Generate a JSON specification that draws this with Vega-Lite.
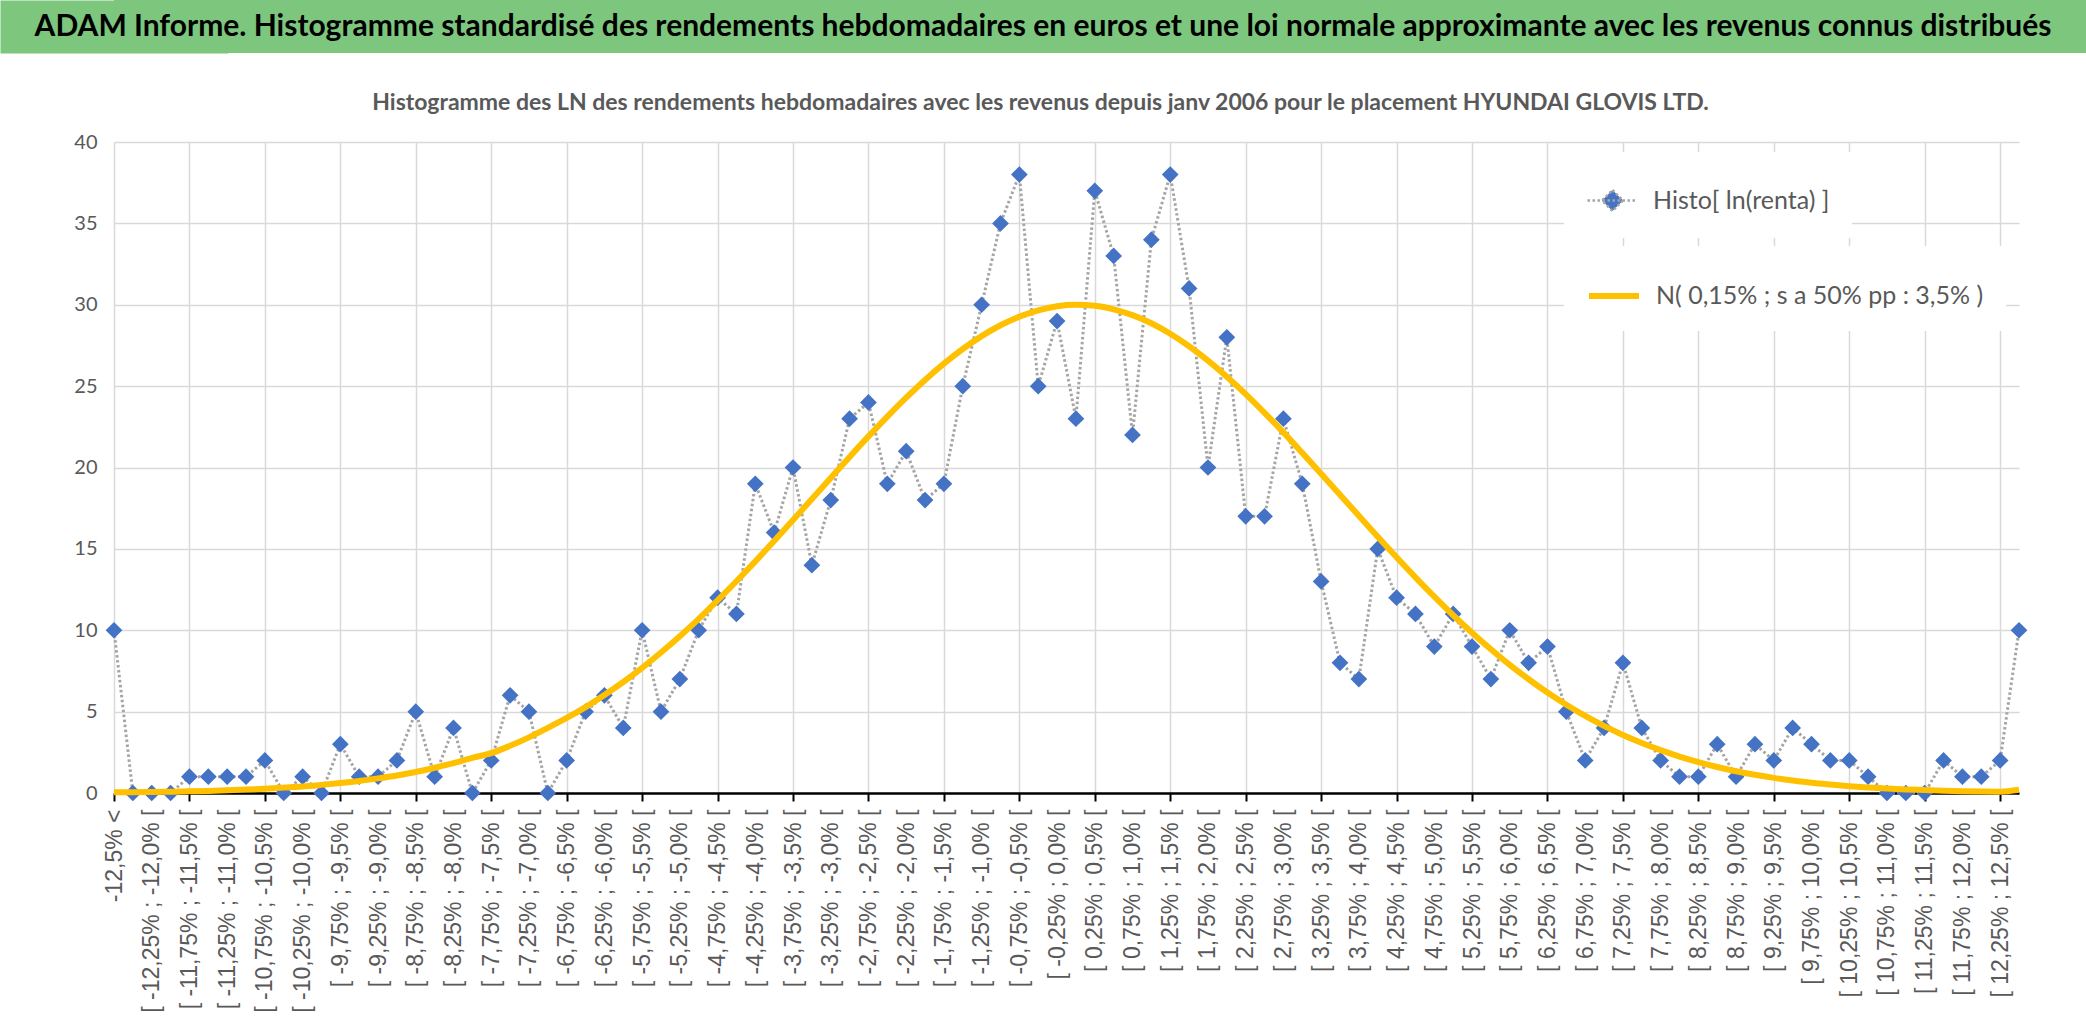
{
  "$schema": "https://vega.github.io/schema/vega-lite/v6.json",
  "background": "white",
  "padding": 0,
  "columns": 1,
  "align": "none",
  "bounds": "full",
  "spacing": 39,
  "resolve": {"legend": {"color": "independent", "strokeDash": "independent"}},
  "config": {"view": {"stroke": null}},
  "concat": [
    {
      "width": 1972,
      "height": 53,
      "view": {"fill": "#7CC77D", "stroke": null},
      "data": {"values": [{"titre": "ADAM Informe. Histogramme standardisé des rendements hebdomadaires en euros et une loi normale approximante avec les revenus connus distribués"}]},
      "mark": {"type": "text", "font": "Lato", "fontWeight": "bold", "fontSize": 30, "color": "black", "align": "center", "baseline": "middle", "dx": -57},
      "encoding": {
        "text": {"field": "titre", "type": "nominal"},
        "y": {
          "datum": 0.5,
          "type": "quantitative",
          "scale": {"domain": [0, 1]},
          "axis": {"title": null, "labels": false, "ticks": false, "grid": false, "domainColor": "#7CC77D", "domainWidth": 228, "domainCap": "butt"}
        }
      }
    },
    {
      "width": 1905,
      "height": 651,
      "title": {
        "text": "Histogramme des LN des rendements hebdomadaires avec les revenus depuis janv 2006 pour le placement HYUNDAI GLOVIS LTD.",
        "font": "Lato",
        "fontSize": 23,
        "fontWeight": "bold",
        "color": "#595959",
        "anchor": "middle",
        "dx": -26,
        "offset": 17
      },
      "data": {
        "values": [
          {"classe": "-12,5% <", "effectif": 10, "normale": 0.04},
          {"classe": "[ -12,5% ; -12,25% [", "effectif": 0, "normale": 0.05},
          {"classe": "[ -12,25% ; -12,0% [", "effectif": 0, "normale": 0.06},
          {"classe": "[ -12,0% ; -11,75% [", "effectif": 0, "normale": 0.08},
          {"classe": "[ -11,75% ; -11,5% [", "effectif": 1, "normale": 0.10},
          {"classe": "[ -11,5% ; -11,25% [", "effectif": 1, "normale": 0.13},
          {"classe": "[ -11,25% ; -11,0% [", "effectif": 1, "normale": 0.17},
          {"classe": "[ -11,0% ; -10,75% [", "effectif": 1, "normale": 0.21},
          {"classe": "[ -10,75% ; -10,5% [", "effectif": 2, "normale": 0.26},
          {"classe": "[ -10,5% ; -10,25% [", "effectif": 0, "normale": 0.33},
          {"classe": "[ -10,25% ; -10,0% [", "effectif": 1, "normale": 0.40},
          {"classe": "[ -10,0% ; -9,75% [", "effectif": 0, "normale": 0.50},
          {"classe": "[ -9,75% ; -9,5% [", "effectif": 3, "normale": 0.61},
          {"classe": "[ -9,5% ; -9,25% [", "effectif": 1, "normale": 0.74},
          {"classe": "[ -9,25% ; -9,0% [", "effectif": 1, "normale": 0.90},
          {"classe": "[ -9,0% ; -8,75% [", "effectif": 2, "normale": 1.08},
          {"classe": "[ -8,75% ; -8,5% [", "effectif": 5, "normale": 1.29},
          {"classe": "[ -8,5% ; -8,25% [", "effectif": 1, "normale": 1.55},
          {"classe": "[ -8,25% ; -8,0% [", "effectif": 4, "normale": 1.83},
          {"classe": "[ -8,0% ; -7,75% [", "effectif": 0, "normale": 2.16},
          {"classe": "[ -7,75% ; -7,5% [", "effectif": 2, "normale": 2.45},
          {"classe": "[ -7,5% ; -7,25% [", "effectif": 6, "normale": 2.9},
          {"classe": "[ -7,25% ; -7,0% [", "effectif": 5, "normale": 3.42},
          {"classe": "[ -7,0% ; -6,75% [", "effectif": 0, "normale": 4.0},
          {"classe": "[ -6,75% ; -6,5% [", "effectif": 2, "normale": 4.61},
          {"classe": "[ -6,5% ; -6,25% [", "effectif": 5, "normale": 5.28},
          {"classe": "[ -6,25% ; -6,0% [", "effectif": 6, "normale": 6.02},
          {"classe": "[ -6,0% ; -5,75% [", "effectif": 4, "normale": 6.82},
          {"classe": "[ -5,75% ; -5,5% [", "effectif": 10, "normale": 7.69},
          {"classe": "[ -5,5% ; -5,25% [", "effectif": 5, "normale": 8.63},
          {"classe": "[ -5,25% ; -5,0% [", "effectif": 7, "normale": 9.63},
          {"classe": "[ -5,0% ; -4,75% [", "effectif": 10, "normale": 10.70},
          {"classe": "[ -4,75% ; -4,5% [", "effectif": 12, "normale": 11.83},
          {"classe": "[ -4,5% ; -4,25% [", "effectif": 11, "normale": 13.01},
          {"classe": "[ -4,25% ; -4,0% [", "effectif": 19, "normale": 14.23},
          {"classe": "[ -4,0% ; -3,75% [", "effectif": 16, "normale": 15.49},
          {"classe": "[ -3,75% ; -3,5% [", "effectif": 20, "normale": 16.77},
          {"classe": "[ -3,5% ; -3,25% [", "effectif": 14, "normale": 18.06},
          {"classe": "[ -3,25% ; -3,0% [", "effectif": 18, "normale": 19.36},
          {"classe": "[ -3,0% ; -2,75% [", "effectif": 23, "normale": 20.65},
          {"classe": "[ -2,75% ; -2,5% [", "effectif": 24, "normale": 21.91},
          {"classe": "[ -2,5% ; -2,25% [", "effectif": 19, "normale": 23.13},
          {"classe": "[ -2,25% ; -2,0% [", "effectif": 21, "normale": 24.29},
          {"classe": "[ -2,0% ; -1,75% [", "effectif": 18, "normale": 25.38},
          {"classe": "[ -1,75% ; -1,5% [", "effectif": 19, "normale": 26.38},
          {"classe": "[ -1,5% ; -1,25% [", "effectif": 25, "normale": 27.28},
          {"classe": "[ -1,25% ; -1,0% [", "effectif": 30, "normale": 28.07},
          {"classe": "[ -1,0% ; -0,75% [", "effectif": 35, "normale": 28.74},
          {"classe": "[ -0,75% ; -0,5% [", "effectif": 38, "normale": 29.27},
          {"classe": "[ -0,5% ; -0,25% [", "effectif": 25, "normale": 29.66},
          {"classe": "[ -0,25% ; 0,0% [", "effectif": 29, "normale": 29.91},
          {"classe": "[ 0,0% ; 0,25% [", "effectif": 23, "normale": 30.0},
          {"classe": "[ 0,25% ; 0,5% [", "effectif": 37, "normale": 29.94},
          {"classe": "[ 0,5% ; 0,75% [", "effectif": 33, "normale": 29.72},
          {"classe": "[ 0,75% ; 1,0% [", "effectif": 22, "normale": 29.36},
          {"classe": "[ 1,0% ; 1,25% [", "effectif": 34, "normale": 28.86},
          {"classe": "[ 1,25% ; 1,5% [", "effectif": 38, "normale": 28.22},
          {"classe": "[ 1,5% ; 1,75% [", "effectif": 31, "normale": 27.45},
          {"classe": "[ 1,75% ; 2,0% [", "effectif": 20, "normale": 26.57},
          {"classe": "[ 2,0% ; 2,25% [", "effectif": 28, "normale": 25.58},
          {"classe": "[ 2,25% ; 2,5% [", "effectif": 17, "normale": 24.51},
          {"classe": "[ 2,5% ; 2,75% [", "effectif": 17, "normale": 23.36},
          {"classe": "[ 2,75% ; 3,0% [", "effectif": 23, "normale": 22.16},
          {"classe": "[ 3,0% ; 3,25% [", "effectif": 19, "normale": 20.90},
          {"classe": "[ 3,25% ; 3,5% [", "effectif": 13, "normale": 19.62},
          {"classe": "[ 3,5% ; 3,75% [", "effectif": 8, "normale": 18.33},
          {"classe": "[ 3,75% ; 4,0% [", "effectif": 7, "normale": 17.03},
          {"classe": "[ 4,0% ; 4,25% [", "effectif": 15, "normale": 15.74},
          {"classe": "[ 4,25% ; 4,5% [", "effectif": 12, "normale": 14.48},
          {"classe": "[ 4,5% ; 4,75% [", "effectif": 11, "normale": 13.25},
          {"classe": "[ 4,75% ; 5,0% [", "effectif": 9, "normale": 12.06},
          {"classe": "[ 5,0% ; 5,25% [", "effectif": 11, "normale": 10.92},
          {"classe": "[ 5,25% ; 5,5% [", "effectif": 9, "normale": 9.85},
          {"classe": "[ 5,5% ; 5,75% [", "effectif": 7, "normale": 8.83},
          {"classe": "[ 5,75% ; 6,0% [", "effectif": 10, "normale": 7.87},
          {"classe": "[ 6,0% ; 6,25% [", "effectif": 8, "normale": 6.99},
          {"classe": "[ 6,25% ; 6,5% [", "effectif": 9, "normale": 6.17},
          {"classe": "[ 6,5% ; 6,75% [", "effectif": 5, "normale": 5.42},
          {"classe": "[ 6,75% ; 7,0% [", "effectif": 2, "normale": 4.74},
          {"classe": "[ 7,0% ; 7,25% [", "effectif": 4, "normale": 4.12},
          {"classe": "[ 7,25% ; 7,5% [", "effectif": 8, "normale": 3.56},
          {"classe": "[ 7,5% ; 7,75% [", "effectif": 4, "normale": 3.07},
          {"classe": "[ 7,75% ; 8,0% [", "effectif": 2, "normale": 2.63},
          {"classe": "[ 8,0% ; 8,25% [", "effectif": 1, "normale": 2.24},
          {"classe": "[ 8,25% ; 8,5% [", "effectif": 1, "normale": 1.90},
          {"classe": "[ 8,5% ; 8,75% [", "effectif": 3, "normale": 1.60},
          {"classe": "[ 8,75% ; 9,0% [", "effectif": 1, "normale": 1.34},
          {"classe": "[ 9,0% ; 9,25% [", "effectif": 3, "normale": 1.12},
          {"classe": "[ 9,25% ; 9,5% [", "effectif": 2, "normale": 0.93},
          {"classe": "[ 9,5% ; 9,75% [", "effectif": 4, "normale": 0.77},
          {"classe": "[ 9,75% ; 10,0% [", "effectif": 3, "normale": 0.63},
          {"classe": "[ 10,0% ; 10,25% [", "effectif": 2, "normale": 0.52},
          {"classe": "[ 10,25% ; 10,5% [", "effectif": 2, "normale": 0.42},
          {"classe": "[ 10,5% ; 10,75% [", "effectif": 1, "normale": 0.34},
          {"classe": "[ 10,75% ; 11,0% [", "effectif": 0, "normale": 0.27},
          {"classe": "[ 11,0% ; 11,25% [", "effectif": 0, "normale": 0.22},
          {"classe": "[ 11,25% ; 11,5% [", "effectif": 0, "normale": 0.18},
          {"classe": "[ 11,5% ; 11,75% [", "effectif": 2, "normale": 0.14},
          {"classe": "[ 11,75% ; 12,0% [", "effectif": 1, "normale": 0.11},
          {"classe": "[ 12,0% ; 12,25% [", "effectif": 1, "normale": 0.09},
          {"classe": "[ 12,25% ; 12,5% [", "effectif": 2, "normale": 0.08},
          {"classe": "> 12,5%", "effectif": 10, "normale": 0.2}
        ]
      },
      "encoding": {
        "x": {
          "field": "classe",
          "type": "ordinal",
          "sort": null,
          "scale": {"type": "point", "padding": 0},
          "axis": {
            "title": null,
            "labelAngle": -90,
            "labelFont": "Liberation Sans",
            "labelFontSize": 23,
            "labelColor": "#595959",
            "labelPadding": 8,
            "labelLimit": 300,
            "labelOverlap": false,
            "labelOpacity": {"condition": {"test": "round(datum.index * 101) % 2 == 0", "value": 1}, "value": 0},
            "domainColor": "black",
            "domainWidth": 2.5,
            "tickColor": "black",
            "tickWidth": 2,
            "tickSize": 8,
            "tickOpacity": {"condition": {"test": "round(datum.index * 101) % 4 == 0", "value": 1}, "value": 0},
            "grid": true,
            "gridColor": "#D9D9D9",
            "gridWidth": 1.5,
            "gridOpacity": {"condition": {"test": "round(datum.index * 101) % 4 == 0", "value": 1}, "value": 0}
          }
        }
      },
      "layer": [
        {
          "mark": {"type": "line", "color": "#A5A5A5", "strokeWidth": 3},
          "encoding": {
            "y": {
              "field": "effectif",
              "type": "quantitative",
              "scale": {"domain": [0, 40]},
              "axis": {
                "title": null,
                "values": [0, 5, 10, 15, 20, 25, 30, 35, 40],
                "domain": false,
                "ticks": false,
                "labelFont": "Lato",
                "labelFontSize": 20,
                "labelColor": "#595959",
                "labelPadding": 17,
                "minExtent": 114,
                "gridColor": "#D9D9D9",
                "gridWidth": 1.5
              }
            },
            "strokeDash": {
              "datum": "Histo[ ln(renta) ]",
              "scale": {"domain": ["Histo[ ln(renta) ]"], "range": [[2.5, 2.5]]},
              "legend": {
                "title": null,
                "orient": "none",
                "legendX": 1450,
                "legendY": 10,
                "fillColor": "white",
                "padding": 22,
                "symbolSize": 2500,
                "symbolType": "M-1,0L1,0M0,-0.42L0.42,0L0,0.42L-0.42,0Z",
                "symbolFillColor": "#4472C4",
                "symbolStrokeColor": "#A5A5A5",
                "symbolStrokeWidth": 2.5,
                "labelOffset": 14,
                "labelLimit": 0,
                "labelFont": "Lato",
                "labelFontSize": 25,
                "labelColor": "#595959"
              }
            }
          }
        },
        {
          "mark": {"type": "point", "shape": "diamond", "filled": true, "size": 280, "opacity": 1, "color": "#4472C4"},
          "encoding": {
            "y": {"field": "effectif", "type": "quantitative"}
          }
        },
        {
          "mark": {"type": "line", "strokeWidth": 6, "interpolate": "monotone"},
          "encoding": {
            "y": {"field": "normale", "type": "quantitative"},
            "color": {
              "datum": "N( 0,15% ; s a 50% pp : 3,5% )",
              "scale": {"domain": ["N( 0,15% ; s a 50% pp : 3,5% )"], "range": ["#FFC000"]},
              "legend": {
                "title": null,
                "orient": "none",
                "legendX": 1450,
                "legendY": 104,
                "fillColor": "white",
                "padding": 22,
                "symbolSize": 2500,
                "symbolType": "stroke",
                "symbolStrokeWidth": 6,
                "labelOffset": 14,
                "labelLimit": 0,
                "labelFont": "Lato",
                "labelFontSize": 25,
                "labelColor": "#595959"
              }
            }
          }
        }
      ]
    }
  ]
}
